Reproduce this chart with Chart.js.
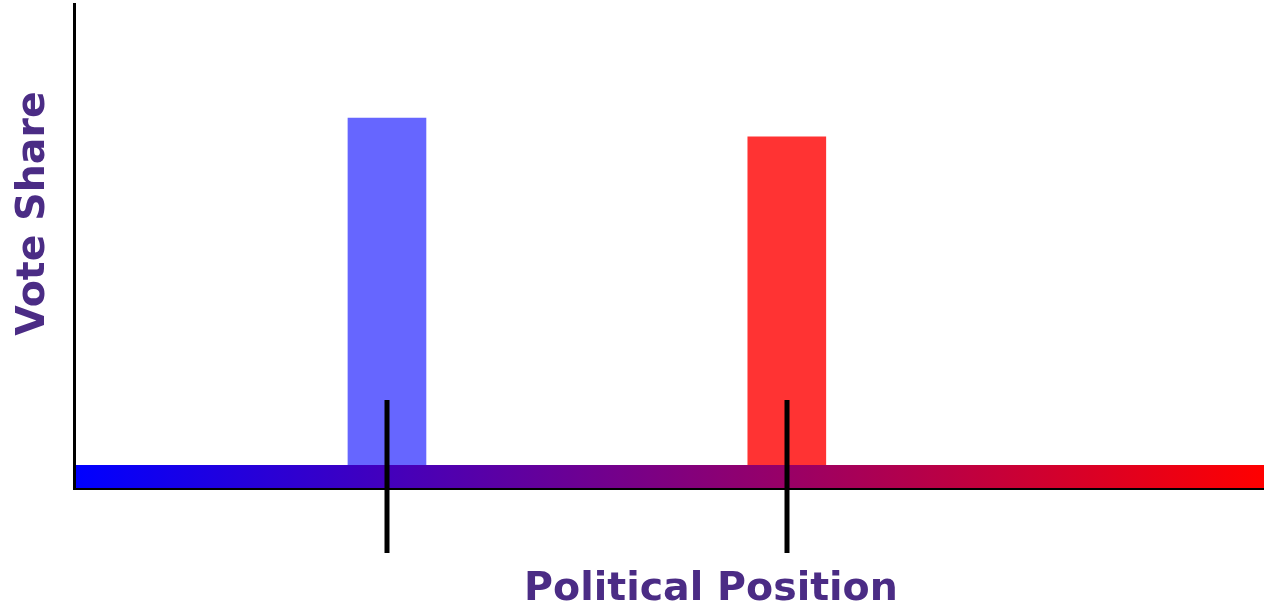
<!DOCTYPE html>
<html>
<head>
<meta charset="utf-8">
<script src="https://cdn.jsdelivr.net/npm/chart.js@4"></script>
<style>
  html, body { margin: 0; padding: 0; background: #ffffff; }
  #wrap { width: 1264px; height: 603px; position: relative; }
</style>
</head>
<body>
<div id="wrap"><canvas id="chart"></canvas></div>
<script>
// Two parties on a left-right spectrum (0 = far left, 100 = far right)
const parties = ['Left party', 'Right party'];
const positions = [26.3, 59.9];
const voteShares = [0.765, 0.726];
const partyColors = ['#6666ff', '#ff3333'];
const xTitle = 'Political Position';
const yTitle = 'Vote Share';
const titleColor = '#4b2c85';
const titleFont = 'bold 39.5px "DejaVu Sans", sans-serif';

// Blue-to-red spectrum band along the bottom of the plot, plus party position markers
const spectrumPlugin = {
  id: 'spectrum',
  afterDatasetsDraw(chart) {
    const { ctx, scales } = chart;
    const x0 = scales.x.getPixelForValue(scales.x.min) + 1;
    const x1 = scales.x.getPixelForValue(scales.x.max);
    const yb = scales.y.getPixelForValue(scales.y.min);
    const band = 24;
    const g = ctx.createLinearGradient(x0, 0, x1, 0);
    g.addColorStop(0, '#0000ff');
    g.addColorStop(1, '#ff0000');
    ctx.save();
    ctx.fillStyle = g;
    ctx.fillRect(x0, yb - band, x1 - x0, band);
    ctx.restore();
  },
  afterDraw(chart) {
    const { ctx, scales } = chart;
    const yb = scales.y.getPixelForValue(scales.y.min);
    ctx.save();
    ctx.strokeStyle = '#000000';
    ctx.lineWidth = 5;
    positions.forEach(p => {
      const px = Math.round(scales.x.getPixelForValue(p));
      ctx.beginPath();
      ctx.moveTo(px, yb - 89);
      ctx.lineTo(px, yb + 64);
      ctx.stroke();
    });
    // axis titles
    ctx.fillStyle = titleColor;
    ctx.font = titleFont;
    ctx.textAlign = 'center';
    ctx.textBaseline = 'alphabetic';
    ctx.fillText(xTitle, 711, 600);
    ctx.translate(44, 213.5);
    ctx.rotate(-Math.PI / 2);
    ctx.fillText(yTitle, 0, 0);
    ctx.restore();
  }
};

new Chart(document.getElementById('chart'), {
  type: 'bar',
  data: {
    labels: parties,
    datasets: [{
      data: positions.map((p, i) => ({ x: p, y: voteShares[i] })),
      backgroundColor: partyColors,
      borderWidth: 0,
      barThickness: 78
    }]
  },
  options: {
    responsive: true,
    maintainAspectRatio: false,
    animation: false,
    layout: { padding: { left: 66, top: 4, right: 0, bottom: 106 } },
    plugins: { legend: { display: false }, tooltip: { enabled: false } },
    scales: {
      x: {
        type: 'linear',
        min: 0,
        max: 100,
        offset: false,
        grid: { display: false },
        ticks: { display: false },
        border: { color: '#000000', width: 2, z: 1 }
      },
      y: {
        min: 0,
        max: 1,
        grid: { display: false },
        ticks: { display: false },
        border: { color: '#000000', width: 3, z: 1 }
      }
    }
  },
  plugins: [spectrumPlugin]
});
</script>
</body>
</html>
